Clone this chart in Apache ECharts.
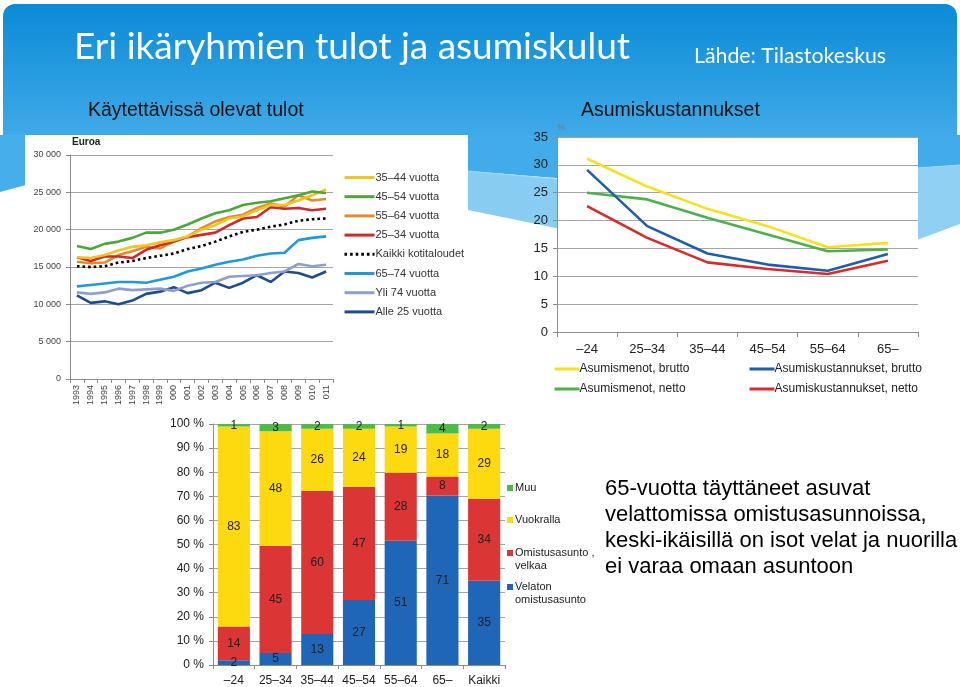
<!DOCTYPE html>
<html>
<head>
<meta charset="utf-8">
<script src="https://cdn.jsdelivr.net/npm/echarts@6/dist/echarts.min.js"></script>
<style>
html,body{margin:0;padding:0;background:#fff;}
#c{width:960px;height:687px;}
</style>
</head>
<body>
<div id="c"></div>
<script>
// ---------- Chart 1: Käytettävissä olevat tulot ----------
const years = ['1993','1994','1995','1996','1997','1998','1999','000','001','002','003','004','005','006','007','008','009','010','011'];
const inc3544 = [16300,16200,16600,17200,17700,17900,18300,18600,19100,20000,20600,21500,21800,22600,23300,23300,23900,24600,25400];
const inc4554 = [17800,17400,18100,18400,18900,19600,19600,20000,20700,21500,22200,22600,23300,23600,23800,24200,24600,25100,24900];
const inc5564 = [15700,15500,15600,16600,17100,17700,17500,18400,19100,20200,21100,21700,22000,22900,23500,23100,24600,23900,24100];
const inc2534 = [16300,15800,16400,16400,16200,17300,17900,18400,19000,19300,19600,20600,21500,21700,23000,22800,22900,22600,22800];
const incAll  = [15100,15000,15100,15600,15800,16200,16500,16800,17400,17800,18400,19100,19700,20000,20400,20700,21200,21400,21500];
const inc6574 = [12400,12600,12800,13000,13000,12900,13300,13700,14400,14800,15300,15700,16000,16500,16800,16900,18600,18900,19100];
const incOver74 = [11600,11400,11600,12100,11900,12000,12100,11800,12500,12900,13000,13700,13800,13900,14200,14400,15400,15100,15300];
const incUnder25 = [11200,10200,10400,10000,10500,11400,11700,12300,11500,11900,12900,12200,12900,13900,13000,14400,14200,13600,14400];
const incNames = ['35–44 vuotta','45–54 vuotta','55–64 vuotta','25–34 vuotta','Kaikki kotitaloudet','65–74 vuotta','Yli 74 vuotta','Alle 25 vuotta'];

// ---------- Chart 2: Asumiskustannukset ----------
const ageCats = ['–24','25–34','35–44','45–54','55–64','65–'];
const menotBrutto = [31.1,26.1,22.1,19.0,15.2,16.0];
const kustBrutto = [29.1,19.0,14.1,12.1,11.0,14.0];
const menotNetto = [25.0,23.8,20.5,17.5,14.5,14.8];
const kustNetto = [22.6,16.9,12.5,11.3,10.4,12.8];
const costNames = ['Asumismenot, brutto','Asumismenot, netto','Asumiskustannukset, brutto','Asumiskustannukset, netto'];

// ---------- Chart 3: Asumismuoto ----------
const tenureCats = ['–24','25–34','35–44','45–54','55–64','65–','Kaikki'];
const velaton = [2,5,13,27,51,71,35];
const velkaa = [14,45,60,47,28,8,34];
const vuokralla = [83,48,26,24,19,18,29];
const muu = [1,3,2,2,1,4,2];
const tenureNames = ['Velaton omistusasunto','Omistusasunto, velkaa','Vuokralla','Muu'];
// legend text: first line shown by the legend, second line (if any) as continuation text
const tenureLegendLine1 = {'Velaton omistusasunto':'Velaton','Omistusasunto, velkaa':'Omistusasunto ,','Vuokralla':'Vuokralla','Muu':'Muu'};
const tenureLegendLine2 = {'Velaton omistusasunto':'omistusasunto','Omistusasunto, velkaa':'velkaa'};

const tenureRaw = [velaton, velkaa, vuokralla, muu];
const totals = tenureCats.map((c,i)=>tenureRaw.reduce((s,a)=>s+a[i],0));
const pct = arr => arr.map((v,i)=>v/totals[i]*100);

const chart = echarts.init(document.getElementById('c'), null, {renderer:'canvas'});

const sansNarrow = "'Liberation Sans Narrow','Liberation Sans',Arial,sans-serif";
const sans = "'Liberation Sans',Arial,sans-serif";
const gridGray = '#a6a6a6';
const axisGray = '#8c8c8c';

function lineSeries(name, data, color, xi, extra){
  return Object.assign({
    type:'line', name, data, xAxisIndex:xi, yAxisIndex:xi,
    symbol:'none', showSymbol:false, smooth:false,
    lineStyle:{color, width:2.6}, itemStyle:{color},
    emphasis:{disabled:true}, animation:false
  }, extra||{});
}

const incColors = ['#f2c41c','#4aa83a','#e38b2f','#cc2a2c','#000000','#1e9ad8','#8d9fcf','#1c4d8f'];
const incData = [inc3544,inc4554,inc5564,inc2534,incAll,inc6574,incOver74,incUnder25];

const series = [];
[7,6,5,4,2,3,0,1].forEach(i=>{
  const extra = i===4 ? {lineStyle:{color:'#000',width:2.6,type:[2.6,3]}} : null;
  series.push(lineSeries(incNames[i], incData[i], incColors[i], 0, extra));
});

const costData = [menotBrutto, menotNetto, kustBrutto, kustNetto];
const costColors = ['#f7e01c','#4cb14a','#1f5ea8','#d92a2c'];
[1,0,3,2].forEach(i=>{
  series.push(lineSeries(costNames[i], costData[i], costColors[i], 1, {lineStyle:{color:costColors[i], width:2.6}}));
});

const tenureColors = ['#1f66b8','#db3535','#fdd90f','#4cbb47'];
tenureRaw.forEach((arr,k)=>{
  series.push({
    type:'bar', name:tenureNames[k], stack:'t', xAxisIndex:2, yAxisIndex:2,
    data:pct(arr), barCategoryGap:'23%',
    itemStyle:{color:tenureColors[k]},
    label:{show:true, position:'inside', color:'#222', fontSize:12, fontFamily:sans,
      formatter:p=>String(arr[p.dataIndex])},
    emphasis:{disabled:true}, animation:false
  });
});

const lineLegendCommon = {orient:'vertical', padding:0, selectedMode:false, lineStyle:{width:3},
  itemStyle:{opacity:0, borderWidth:0}};

function tenureLegend(name, centerY){
  return {left:507, top:centerY-6.5, padding:0, itemWidth:6, itemHeight:6, icon:'rect', data:[name], selectedMode:false,
    formatter:n=>tenureLegendLine1[n], textStyle:{fontSize:11, color:'#222', fontFamily:sans, lineHeight:13, padding:[0,0,0,-3]}};
}
function tenureLegendCont(name, centerY){
  return {type:'text', z:10, left:515, top:centerY-6.5,
    style:{text:tenureLegendLine2[name], fill:'#222', font:"11px 'Liberation Sans', Arial, sans-serif", lineHeight:13}};
}

const option = {
  animation:false,
  backgroundColor:'#ffffff',
  graphic:[
    {type:'rect', z:-20, shape:{x:3,y:4,width:954,height:132,r:[12,12,0,0]},
      style:{fill:new echarts.graphic.LinearGradient(0,0,0,1,[{offset:0,color:'#0a8bd7'},{offset:1,color:'#40aae8'}])}},
    {type:'polygon', z:-19, shape:{points:[[0,135],[960,135],[960,165],[917,168],[700,177],[556,178],[468,171],[0,150]]},
      style:{fill:'#42abe9'}},
    {type:'polygon', z:-18, shape:{points:[[300,166],[468,171],[556,179],[700,178],[917,168],[960,165],[960,224],[917,240],[700,236],[556,228],[468,210],[300,200]]},
      style:{fill:new echarts.graphic.LinearGradient(0,0,1,0,[{offset:0,color:'#86cbf2'},{offset:1,color:'#8fd0f3'}])}},
    {type:'polyline', z:-17, shape:{points:[[300,166],[468,171],[556,179],[700,178],[917,168],[960,165]]},
      style:{stroke:'#9ad6f6',lineWidth:1.2,fill:null}},
    {type:'polygon', z:-17, shape:{points:[[0,135],[26,135],[26,185],[0,192]]}, style:{fill:'#46aeea'}},
    {type:'rect', z:-10, shape:{x:25,y:135,width:443,height:276}, style:{fill:'#ffffff'}},
    {type:'text', z:10, left:74, top:29, style:{text:'Eri ikäryhmien tulot ja asumiskulut', fill:'#ffffff', font:"37px Lato, 'Open Sans', sans-serif"}},
    {type:'text', z:10, left:694, top:46, style:{text:'Lähde: Tilastokeskus', fill:'#ffffff', font:"21.3px Lato, 'Open Sans', sans-serif"}},
    {type:'text', z:10, left:88, top:101, style:{text:'Käytettävissä olevat tulot', fill:'#111111', font:"19.5px 'Liberation Sans', Arial, sans-serif"}},
    {type:'text', z:10, left:581, top:101, style:{text:'Asumiskustannukset', fill:'#111111', font:"19.5px 'Liberation Sans', Arial, sans-serif"}},
    {type:'text', z:10, left:605, top:476, style:{text:'65-vuotta täyttäneet asuvat\nvelattomissa omistusasunnoissa,\nkeski-ikäisillä on isot velat ja nuorilla\nei varaa omaan asuntoon',
      fill:'#000000', font:"22px 'Liberation Sans', Arial, sans-serif", lineHeight:26}},
    tenureLegendCont('Omistusasunto, velkaa', 566),
    tenureLegendCont('Velaton omistusasunto', 600)
  ],
  grid:[
    {left:70, top:155, width:263, height:224, containLabel:false},
    {left:557, top:137, width:361, height:195, show:true, backgroundColor:'#ffffff', borderWidth:0},
    {left:213, top:424, width:292, height:242}
  ],
  xAxis:[
    {gridIndex:0, type:'category', data:years, boundaryGap:true,
      axisLine:{lineStyle:{color:axisGray}}, axisTick:{show:true, length:4, lineStyle:{color:axisGray}},
      axisLabel:{rotate:90, interval:0, fontSize:9, color:'#444', fontFamily:sans, margin:6}},
    {gridIndex:1, type:'category', data:ageCats, boundaryGap:true,
      axisLine:{lineStyle:{color:axisGray}}, axisTick:{show:true, length:5, lineStyle:{color:axisGray}},
      axisLabel:{interval:0, fontSize:13, color:'#222', fontFamily:sans, margin:11}},
    {gridIndex:2, type:'category', data:tenureCats, boundaryGap:true,
      axisLine:{lineStyle:{color:axisGray}}, axisTick:{show:true, length:4, lineStyle:{color:axisGray}},
      axisLabel:{interval:0, fontSize:12, color:'#222', fontFamily:sans, margin:10}}
  ],
  yAxis:[
    {gridIndex:0, type:'value', min:0, max:30000, interval:5000,
      name:'Euroa', nameLocation:'end', nameGap:8,
      nameTextStyle:{align:'left', fontWeight:'bold', fontSize:10, color:'#222', fontFamily:sansNarrow, padding:[0,0,0,2]},
      axisLine:{show:true, lineStyle:{color:axisGray}}, axisTick:{show:true, length:4, lineStyle:{color:axisGray}},
      splitLine:{lineStyle:{color:gridGray, width:1}},
      axisLabel:{fontSize:9, color:'#444', fontFamily:sans, margin:9,
        formatter:v=>v===0?'0':String(v).replace(/(\d)(?=(\d{3})+$)/g,'$1 ')}},
    {gridIndex:1, type:'value', min:0, max:35, interval:5,
      name:'%', nameLocation:'end', nameGap:5,
      nameTextStyle:{align:'left', fontSize:9, color:'#777', fontFamily:sans},
      axisLine:{show:true, lineStyle:{color:axisGray}}, axisTick:{show:true, length:4, lineStyle:{color:axisGray}},
      splitLine:{lineStyle:{color:gridGray, width:1}},
      axisLabel:{fontSize:13, color:'#222', fontFamily:sans, margin:9}},
    {gridIndex:2, type:'value', min:0, max:100, interval:10,
      axisLine:{show:true, lineStyle:{color:axisGray}}, axisTick:{show:true, length:4, lineStyle:{color:axisGray}},
      splitLine:{lineStyle:{color:gridGray, width:1}},
      axisLabel:{fontSize:12, color:'#222', fontFamily:sans, margin:9, formatter:'{value} %'}}
  ],
  legend:[
    Object.assign({}, lineLegendCommon, {left:343, top:172, itemWidth:30, itemHeight:12, itemGap:8.2, data:incNames,
      textStyle:{fontSize:11, color:'#333', fontFamily:sansNarrow, padding:[0,0,0,-4]}}),
    Object.assign({}, lineLegendCommon, {left:553, top:363, itemWidth:25, itemHeight:12, itemGap:8,
      data:['Asumismenot, brutto','Asumismenot, netto'],
      textStyle:{fontSize:12, color:'#222', fontFamily:sans, padding:[0,0,0,-5]}}),
    Object.assign({}, lineLegendCommon, {left:748, top:363, itemWidth:25, itemHeight:12, itemGap:8,
      data:['Asumiskustannukset, brutto','Asumiskustannukset, netto'],
      textStyle:{fontSize:12, color:'#222', fontFamily:sans, padding:[0,0,0,-5]}}),
    tenureLegend('Muu', 488),
    tenureLegend('Vuokralla', 520),
    tenureLegend('Omistusasunto, velkaa', 553),
    tenureLegend('Velaton omistusasunto', 587)
  ],
  series
};
chart.setOption(option);
</script>
</body>
</html>
